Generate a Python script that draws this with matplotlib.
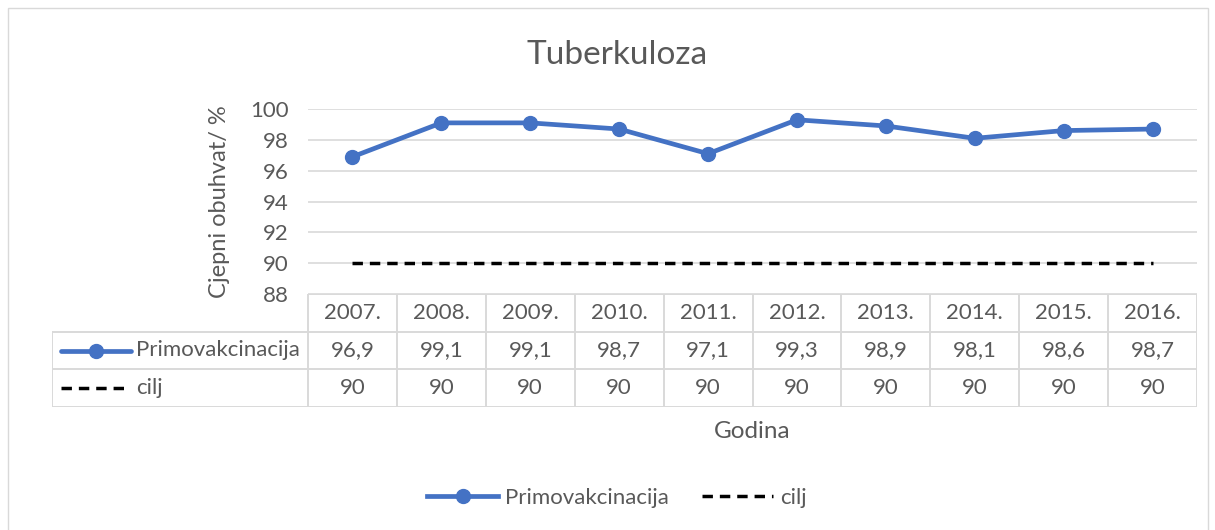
"""Tuberkuloza - cjepni obuhvat (Excel-style line chart with data table)"""

import matplotlib

matplotlib.use("Agg")
import matplotlib.pyplot as plt
from matplotlib.lines import Line2D
from matplotlib.patches import Rectangle

plt.rcParams["font.family"] = ["Lato", "DejaVu Sans"]

# data
years = ["2007.", "2008.", "2009.", "2010.", "2011.", "2012.", "2013.", "2014.", "2015.", "2016."]
primovakcinacija = [96.9, 99.1, 99.1, 98.7, 97.1, 99.3, 98.9, 98.1, 98.6, 98.7]
cilj = [90, 90, 90, 90, 90, 90, 90, 90, 90, 90]
yticks = [88, 90, 92, 94, 96, 98, 100]

TEXT = "#595959"
GRID = "#D9D9D9"
BLUE = "#4472C4"
FS = 16
DASH = (0, (3.0, 2.0))

W, H = 1215, 530
fig = plt.figure(figsize=(W / 100, H / 100), dpi=100)

# okvir grafikona
fig.patches.append(
    Rectangle((8 / W, -0.1), 1200 / W, (H - 8) / H + 0.1,
              transform=fig.transFigure, fill=False, edgecolor=GRID, linewidth=1)
)

# pikselne granice
px_left, px_right = 308, 1197
px_top, px_bottom = 109, 294
tab_left, tab_top, tab_bottom = 52, 294, 407

ax = fig.add_axes([px_left / W, (H - px_bottom) / H,
                   (px_right - px_left) / W, (px_bottom - px_top) / H])
x = list(range(len(years)))
ax.plot(x, primovakcinacija, color=BLUE, linewidth=3.4, marker="o", markersize=10,
        solid_capstyle="round", zorder=3)
ax.plot(x, cilj, color="black", linewidth=2.5, linestyle=DASH, zorder=3)
ax.set_xlim(-0.5, len(years) - 0.5)
ax.set_ylim(88, 100)
ax.set_yticks(yticks)
ax.set_xticks([])
ax.grid(axis="y", color=GRID, linewidth=1.2)
ax.set_axisbelow(True)
for s in ax.spines.values():
    s.set_visible(False)
ax.tick_params(axis="y", length=0, labelsize=FS, labelcolor=TEXT, pad=14)
ax.set_ylabel("Cjepni obuhvat/ %", fontsize=17, color=TEXT, labelpad=14)

# naslov
fig.text(617 / W, (H - 55) / H, "Tuberkuloza", ha="center", va="center",
         fontsize=24, color=TEXT)

# tablica podataka
col_w = (px_right - px_left) / len(years)
extra = (px_left - tab_left) / col_w
tab = fig.add_axes([tab_left / W, (H - tab_bottom) / H,
                    (px_right - tab_left) / W, (tab_bottom - tab_top) / H])
tab.set_xlim(-0.5 - extra, len(years) - 0.5)
tab.set_ylim(3, 0)
tab.axis("off")

lw = 1.4
# horizontalne linije
tab.plot([-0.5, len(years) - 0.5], [0, 0], color=GRID, lw=lw)
for r in [1, 2, 3]:
    tab.plot([-0.5 - extra, len(years) - 0.5], [r, r], color=GRID, lw=lw)
# vertikalne linije
for i in range(len(years) + 1):
    tab.plot([i - 0.5, i - 0.5], [0, 3], color=GRID, lw=lw)
tab.plot([-0.5 - extra, -0.5 - extra], [1, 3], color=GRID, lw=lw)

for i, yr in enumerate(years):
    tab.text(i, 0.5, yr, ha="center", va="center", fontsize=FS, color=TEXT)
    tab.text(i, 1.5, f"{primovakcinacija[i]:.1f}".replace(".", ","),
             ha="center", va="center", fontsize=FS, color=TEXT)
    tab.text(i, 2.5, f"{cilj[i]}", ha="center", va="center", fontsize=FS, color=TEXT)

# legendni ključevi u tablici
k0 = -0.5 - extra + 9 / col_w
k1 = -0.5 - extra + 79 / col_w
tab.plot([k0, k1], [1.5, 1.5], color=BLUE, lw=3.4, solid_capstyle="round")
tab.plot([(k0 + k1) / 2], [1.5], color=BLUE, marker="o", markersize=10)
tab.plot([k0, k1 - 3 / col_w], [2.5, 2.5], color="black", lw=2.5, linestyle=DASH)
tab.text(k1 + 5 / col_w, 1.5, "Primovakcinacija", ha="left", va="center", fontsize=FS, color=TEXT)
tab.text(k1 + 5 / col_w, 2.5, "cilj", ha="left", va="center", fontsize=FS, color=TEXT)

# naziv osi x
fig.text((px_left + px_right) / 2 / W, (H - 431) / H, "Godina",
         ha="center", va="center", fontsize=17.5, color=TEXT)

# legenda
handles = [
    Line2D([], [], color=BLUE, lw=3.4, marker="o", markersize=10),
    Line2D([], [], color="black", lw=2.5, linestyle=DASH),
]
fig.legend(handles, ["Primovakcinacija", "cilj"], loc="center",
           bbox_to_anchor=(617 / W, (H - 498) / H), ncol=2, frameon=False,
           fontsize=FS, labelcolor=TEXT, handlelength=3.2, handletextpad=0.3,
           columnspacing=1.5)

fig.savefig("out.png", dpi=100)
